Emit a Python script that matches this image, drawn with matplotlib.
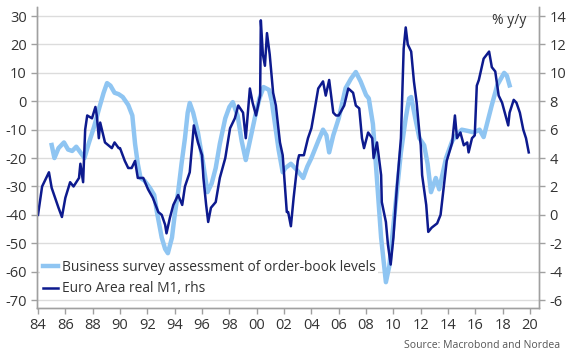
import matplotlib.pyplot as plt
import matplotlib.ticker as mticker

plt.rcParams['font.family'] = ['Open Sans', 'DejaVu Sans']

# Business survey assessment of order-book levels (lhs)
survey_years = [1985.0, 1985.2, 1985.5, 1985.9, 1986.2, 1986.5, 1986.8, 1987.1, 1987.4, 1987.7,
                1988.1, 1988.5, 1988.8, 1989.05, 1989.3, 1989.6, 1989.9, 1990.2, 1990.6, 1990.9,
                1991.1, 1991.3, 1991.5, 1991.8, 1992.2, 1992.5, 1992.7, 1993.05, 1993.3, 1993.5,
                1993.8, 1994.0, 1994.25, 1994.5, 1994.75, 1994.95, 1995.1, 1995.35, 1995.7, 1996.05,
                1996.4, 1996.7, 1997.0, 1997.3, 1997.7, 1998.0, 1998.25, 1998.6, 1998.9, 1999.2,
                1999.5, 1999.9, 2000.2, 2000.5, 2000.9, 2001.1, 2001.35, 2001.6, 2001.9, 2002.1,
                2002.5, 2002.9, 2003.4, 2003.7, 2004.0, 2004.5, 2004.85, 2005.1, 2005.3, 2005.6,
                2006.0, 2006.5, 2006.9, 2007.25, 2007.6, 2008.0, 2008.2, 2008.5, 2008.7, 2009.1,
                2009.45, 2009.7, 2010.0, 2010.55, 2010.9, 2011.15, 2011.3, 2011.6, 2011.9, 2012.25,
                2012.5, 2012.75, 2013.1, 2013.35, 2013.85, 2014.3, 2014.6, 2015.0, 2015.5, 2015.9,
                2016.3, 2016.6, 2017.2, 2017.6, 2018.1, 2018.3, 2018.5]
survey_values = [-15.4, -20, -16.5, -14.5, -17, -17.5, -16, -18, -20, -15,
                 -9, -2, 3, 6.4, 5.5, 3, 2.5, 1.5, -1.3, -5,
                 -15, -22, -27, -28, -30.6, -33, -39, -48, -52, -53.5,
                 -48, -40, -32, -22, -13, -4, -0.6, -4, -11, -21,
                 -32, -29, -23.5, -15, -6, -2, -0.3, -5, -14, -20.7,
                 -14, -5, 1, 5, 4, 0, -8.5, -17, -25, -23.5,
                 -22, -24, -27, -23, -20, -14, -10, -12, -18, -12,
                 -6, 4.6, 8, 10.3, 7, 2.2, 1, -8, -21, -48,
                 -63.7, -58, -43.6, -18, -6, 1, 1.5, -6, -13, -15.5,
                 -22, -32, -27, -31, -20, -14, -12, -10, -10.5, -11,
                 -10, -12.6, -1.3, 5.7, 10, 9, 5.6]

# Euro Area real M1, % y/y (rhs)
m1_years = [1984.0, 1984.3, 1984.8, 1985.0, 1985.25, 1985.5, 1985.75, 1986.0, 1986.35, 1986.6,
            1987.0, 1987.1, 1987.3, 1987.45, 1987.6, 1987.95, 1988.2, 1988.3, 1988.45, 1988.55,
            1988.9, 1989.4, 1989.6, 1989.9, 1990.0, 1990.35, 1990.6, 1990.85, 1991.1, 1991.3,
            1991.7, 1992.05, 1992.4, 1992.8, 1993.05, 1993.3, 1993.4, 1993.65, 1993.9, 1994.25,
            1994.55, 1994.75, 1995.1, 1995.4, 1995.7, 1996.0, 1996.1, 1996.3, 1996.45, 1996.65,
            1997.0, 1997.3, 1997.7, 1998.05, 1998.4, 1998.65, 1999.0, 1999.2, 1999.5, 1999.7,
            1999.95, 2000.25, 2000.3, 2000.45, 2000.6, 2000.75, 2000.95, 2001.2, 2001.4, 2001.7,
            2001.9, 2002.2, 2002.3, 2002.5, 2002.7, 2003.0, 2003.1, 2003.45, 2003.75, 2004.0,
            2004.2, 2004.5, 2004.85, 2005.05, 2005.3, 2005.6, 2005.8, 2006.0, 2006.4, 2006.7,
            2007.05, 2007.25, 2007.5, 2007.7, 2007.85, 2008.15, 2008.45, 2008.55, 2008.8, 2009.1,
            2009.15, 2009.45, 2009.6, 2009.8, 2010.0, 2010.25, 2010.55, 2010.65, 2010.75, 2010.9,
            2011.05, 2011.3, 2011.5, 2011.7, 2011.9, 2012.0, 2012.1, 2012.4, 2012.55, 2012.8,
            2013.2, 2013.45, 2013.7, 2013.9, 2014.3, 2014.5, 2014.65, 2014.9, 2015.15, 2015.4,
            2015.5, 2015.75, 2015.95, 2016.1, 2016.25, 2016.6, 2017.0, 2017.2, 2017.45, 2017.7,
            2017.95, 2018.15, 2018.4, 2018.5, 2018.8, 2019.0, 2019.25, 2019.5, 2019.7, 2019.9]
m1_values = [0.0, 2.0, 3.0, 1.9, 1.2, 0.5, -0.15, 1.2, 2.3, 2.0,
             2.6, 3.6, 2.3, 6.0, 7.0, 6.8, 7.6, 7.0, 5.4, 6.5,
             5.1, 4.7, 5.1, 4.7, 4.7, 3.8, 3.3, 3.3, 3.8, 2.6,
             2.6, 1.8, 1.2, 0.2, 0.0, -0.7, -1.3, -0.2, 0.7, 1.4,
             0.7, 2.0, 3.0, 6.3, 5.1, 4.2, 2.6, 0.7, -0.5, 0.5,
             0.9, 2.6, 4.0, 6.1, 6.8, 7.7, 7.2, 5.4, 8.9, 7.9,
             7.0, 8.4, 13.7, 11.3, 10.5, 12.8, 11.3, 8.6, 7.7, 5.1,
             4.2, 0.2, 0.2, -0.8, 1.2, 3.8, 4.2, 4.2, 5.4, 6.1,
             7.2, 8.9, 9.4, 8.4, 9.5, 7.2, 7.0, 7.0, 7.7, 8.9,
             8.6, 7.7, 7.5, 5.4, 4.7, 5.8, 5.4, 4.0, 5.1, 2.8,
             0.9, -0.5, -2.1, -3.5, -1.6, 1.9, 5.4, 8.6, 11.7, 13.2,
             12.0, 11.5, 9.4, 7.9, 5.8, 4.9, 2.8, 0.7, -1.2, -0.9,
             -0.6, 0.0, 2.1, 3.8, 5.1, 7.0, 5.4, 5.8, 4.9, 5.1,
             4.4, 5.4, 5.6, 9.1, 9.5, 11.0, 11.5, 10.4, 10.1, 8.4,
             7.9, 7.2, 6.3, 7.2, 8.1, 7.9, 7.2, 6.0, 5.4, 4.4]

x_ticks = list(range(1984, 2021, 2))
x_labels = [f'{y % 100:02d}' for y in x_ticks]
left_ticks = list(range(-70, 31, 10))
right_ticks = list(range(-6, 15, 2))

light = '#8fc5f2'
dark = '#0d1a8e'
axis_grey = '#a0a0a0'
text_grey = '#333333'

fig = plt.figure(figsize=(5.7, 3.6), dpi=100)
ax = fig.add_axes([0.065, 0.1444, 0.8806, 0.8362])
ax2 = ax.twinx()

l1, = ax.plot(survey_years, survey_values, color=light, lw=3.2, solid_joinstyle='round',
              label='Business survey assessment of order-book levels', zorder=3)
l2, = ax2.plot(m1_years, m1_values, color=dark, lw=1.8, solid_joinstyle='round',
               label='Euro Area real M1, rhs')

ax.set_xlim(1983.93, 2020.65)
ax.set_ylim(-72.8, 33.2)
ax2.set_ylim(-6.56, 14.64)

ax.set_xticks(x_ticks)
ax.set_xticklabels(x_labels)
ax.set_yticks(left_ticks)
ax2.set_yticks(right_ticks)
ax.yaxis.set_major_formatter(mticker.FuncFormatter(lambda v, p: f'{int(v)}'))
ax2.yaxis.set_major_formatter(mticker.FuncFormatter(lambda v, p: f'{int(v)}'))

ax.grid(axis='y', color='#dcdcdc', lw=1)
ax.set_axisbelow(True)

for a in (ax, ax2):
    a.spines['top'].set_visible(False)
    for s in ('left', 'right', 'bottom'):
        a.spines[s].set_color(axis_grey)
        a.spines[s].set_linewidth(1)
    a.tick_params(colors=axis_grey, labelcolor=text_grey, labelsize=10.5, length=4, width=1)
ax.tick_params(axis='x', pad=3)

ax2.text(0.975, 0.955, '% y/y', transform=ax2.transAxes, ha='right', va='center',
         fontsize=10, color=text_grey)

leg = ax.legend(handles=[l1, l2], loc='lower left', bbox_to_anchor=(0.0, 0.02),
                frameon=True, facecolor='white', edgecolor='none', framealpha=1,
                fontsize=9.9, handlelength=1.1, handletextpad=0.3, labelspacing=0.45,
                borderpad=0.2, borderaxespad=0.2)
leg.set_zorder(1.5)
for t in leg.get_texts():
    t.set_color(text_grey)

fig.text(0.982, 0.04, 'Source: Macrobond and Nordea', ha='right', va='center',
         fontsize=7.5, color='#555555')

fig.savefig('out.png', dpi=100)
